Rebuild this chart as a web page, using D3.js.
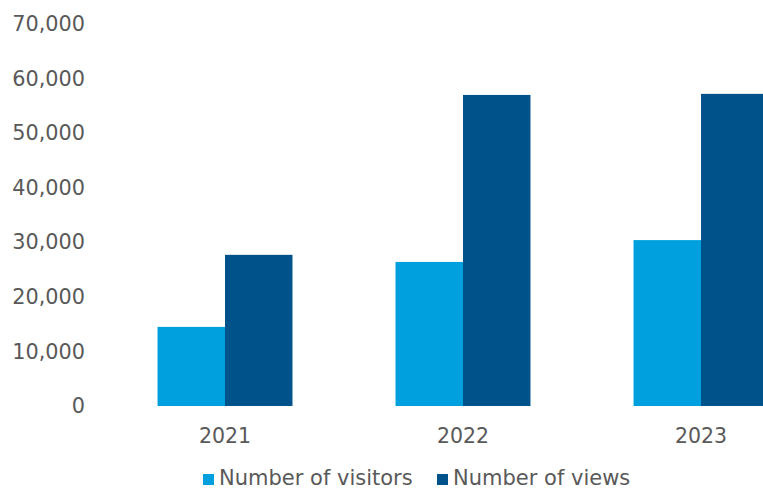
<!DOCTYPE html>
<html>
<head>
<meta charset="utf-8">
<script src="https://cdn.jsdelivr.net/npm/d3@7"></script>
<style>
  html, body { margin: 0; padding: 0; background: #fff; overflow: hidden; }
  svg { display: block; font-family: "DejaVu Sans", Verdana, sans-serif; }
</style>
</head>
<body>
<svg id="chart" width="763" height="490"></svg>
<script>
// Yearly website traffic
const years = ["2021", "2022", "2023"];
const seriesNames = ["Number of visitors", "Number of views"];
const visitors = [14500, 26400, 30400];
const views = [27700, 57000, 57200];
const yTicks = [0, 10000, 20000, 30000, 40000, 50000, 60000, 70000];
const colors = ["#00a0df", "#00528a"];

const svg = d3.select("#chart");
const textColor = "#595959";

const y = d3.scaleLinear().domain([0, 70000]).range([406, 24]);

// category band: step 238px, centred on 225 for the first year
const step = 238;
const pad = 0.433;
const x = d3.scaleBand()
  .domain(years)
  .range([225 - step / 2, 225 - step / 2 + step * years.length])
  .paddingInner(pad)
  .paddingOuter(pad / 2);

const xs = d3.scaleBand().domain(seriesNames).range([0, x.bandwidth()]).padding(0);

const rows = years.map((yr, i) => ({ year: yr, values: [visitors[i], views[i]] }));

// y axis labels
const yAxis = d3.axisLeft(y)
  .tickValues(yTicks)
  .tickSize(0)
  .tickPadding(0)
  .tickFormat(d3.format(","));
const yG = svg.append("g").attr("transform", "translate(85,0)").call(yAxis);
yG.select(".domain").remove();
yG.selectAll("text")
  .attr("fill", textColor)
  .style("font-size", "20.8px")
  .style("font-family", "'DejaVu Sans', Verdana, sans-serif");

// bars
const groups = svg.append("g").selectAll("g")
  .data(rows)
  .join("g")
  .attr("transform", d => `translate(${x(d.year)},0)`);

groups.selectAll("rect")
  .data(d => d.values.map((v, j) => ({ key: seriesNames[j], value: v, j })))
  .join("rect")
  .attr("x", d => xs(d.key))
  .attr("width", xs.bandwidth())
  .attr("y", d => y(d.value))
  .attr("height", d => y(0) - y(d.value))
  .attr("fill", d => colors[d.j]);

// x axis labels
const xAxis = d3.axisBottom(x).tickSize(0).tickPadding(0);
const xG = svg.append("g").attr("transform", "translate(0,428)").call(xAxis);
xG.select(".domain").remove();
xG.selectAll("text")
  .attr("fill", textColor)
  .attr("dy", "0.71em")
  .style("font-size", "20.5px")
  .style("font-family", "'DejaVu Sans', Verdana, sans-serif");

// legend
const legendX = [203, 437];
const legend = svg.append("g").selectAll("g")
  .data(seriesNames)
  .join("g")
  .attr("transform", (d, i) => `translate(${legendX[i]},474)`);
legend.append("rect")
  .attr("width", 11).attr("height", 11)
  .attr("fill", (d, i) => colors[i]);
legend.append("text")
  .attr("x", 16)
  .attr("y", 11)
  .attr("fill", textColor)
  .style("font-size", "21px")
  .text(d => d);
</script>
</body>
</html>
